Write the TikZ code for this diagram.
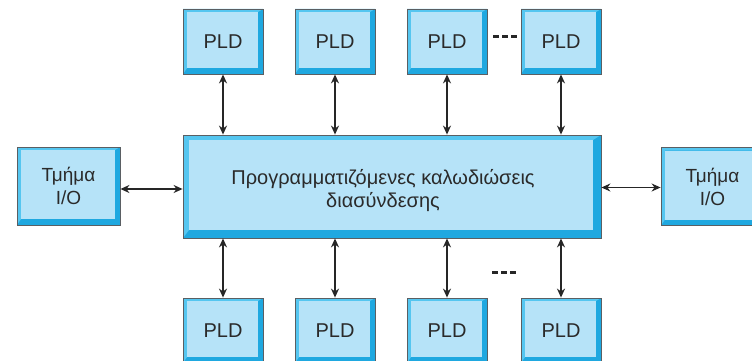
\documentclass[tikz,border=0pt]{standalone}
\usepackage{fontspec}
\setmainfont{Liberation Sans}
\usetikzlibrary{arrows.meta}
\definecolor{bevhi}{HTML}{55C6F0}
\definecolor{bevlo}{HTML}{1FA8E0}
\definecolor{boxin}{HTML}{B6E3F8}
\definecolor{edge}{HTML}{5A5F63}
\definecolor{txt}{HTML}{2A2A2A}
\newcommand\mybevel[4]{%
  \fill[bevlo] (path picture bounding box.south west) rectangle (path picture bounding box.north east);
  \fill[bevhi] (path picture bounding box.south west) -- (path picture bounding box.north west)
    -- (path picture bounding box.north east)
    -- ([xshift=-#3pt,yshift=-#2pt]path picture bounding box.north east)
    -- ([xshift=#1pt,yshift=-#2pt]path picture bounding box.north west)
    -- ([xshift=#1pt,yshift=#4pt]path picture bounding box.south west) -- cycle;
  \fill[boxin] ([xshift=#1pt,yshift=#4pt]path picture bounding box.south west)
    rectangle ([xshift=-#3pt,yshift=-#2pt]path picture bounding box.north east);
}
\tikzset{
  pld/.style={draw=edge, line width=0.8pt, minimum width=80pt, minimum height=65pt,
    inner sep=0pt, text=txt, font=\fontsize{20}{23}\selectfont,
    path picture={\mybevel{4}{3}{5}{6}}},
  iobox/.style={pld, minimum width=103pt, minimum height=78pt, align=center,
    font=\fontsize{19}{23}\selectfont},
  mainbox/.style={draw=edge, line width=0.8pt, minimum width=418pt, minimum height=103pt,
    inner sep=0pt, text=txt, align=center, font=\fontsize{20}{23}\selectfont,
    path picture={\mybevel{6}{5}{8}{8}}},
  arr/.style={line width=1.3pt, black!85, {Stealth[length=9pt,width=8pt]}-{Stealth[length=9pt,width=8pt]}},
  dotsty/.style={line width=3pt, black!85, dash pattern=on 6pt off 3pt}
}
\begin{document}
\begin{tikzpicture}[x=1pt,y=-1pt]
\useasboundingbox (0,0) rectangle (752,361);
\node[mainbox] (m) at (392,186.5) {\rule{0pt}{23pt}Προγραμματιζόμενες καλωδιώσεις\hspace*{18pt}\\διασύνδεσης\hspace*{18pt}};
\node[iobox] (l) at (68.5,186) {Τμήμα\\I/O};
\node[iobox] (r) at (712.5,186.5) {Τμήμα\\I/O};
\foreach \i/\x in {1/223,2/335,3/447,4/561}{
  \node[pld] (t\i) at (\x,41.5) {PLD};
  \node[pld] (b\i) at (\x,330.5) {PLD};
  \draw[arr] (t\i.south) -- (t\i.south |- m.north);
  \draw[arr] (b\i.north) -- (b\i.north |- m.south);
}
\draw[arr] ([yshift=-3pt]l.east) -- ([yshift=-3pt]l.east -| m.west);
\draw[arr] ([yshift=-1pt]r.west) -- ([yshift=-1pt]r.west -| m.east);
\draw[dotsty] (493,37) -- (517,37);
\draw[dotsty] (492,272) -- (517,272);
\end{tikzpicture}
\end{document}
